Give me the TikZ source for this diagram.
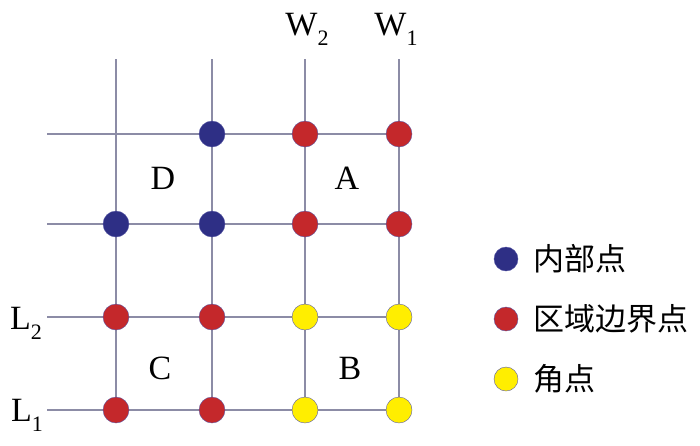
\documentclass[tikz,border=0pt]{standalone}
\usepackage{fontspec}
\setmainfont{Liberation Serif}
\newfontfamily\cjk{Noto Sans CJK SC}
\definecolor{gridc}{HTML}{8C8CA6}
\definecolor{inner}{HTML}{2E2F85}
\definecolor{edge}{HTML}{C4282B}
\definecolor{corner}{HTML}{FFEE00}
\newcommand{\mysub}[1]{\raisebox{-0.3em}{\fontsize{22}{24}\selectfont #1}}
\tikzset{
  gridline/.style={draw=gridc, line width=1.1pt},
  pt/.style={circle, minimum size=26pt, inner sep=0pt, draw=gray!70!blue, line width=0.4pt},
  lgd/.style={circle, minimum size=24pt, inner sep=0pt, draw=gray!70!blue, line width=0.4pt},
  lbl/.style={font=\fontsize{34}{38}\selectfont, inner sep=0pt},
  ctxt/.style={font=\cjk\fontsize{31}{34}\selectfont, anchor=west, inner sep=0pt}
}
\begin{document}
\begin{tikzpicture}[x=1pt,y=-1pt]
\useasboundingbox (0,0) rectangle (700,445);
% coordinates
\foreach \i/\x in {1/116,2/212,3/305,4/399}{
  \coordinate (t\i) at (\x,59);
  \coordinate (b\i) at (\x,410);
}
\foreach \j/\y in {1/134,2/224,3/317,4/410}{
  \coordinate (l\j) at (47,\y);
  \coordinate (r\j) at (399,\y);
}
\foreach \i in {1,...,4}{ \draw[gridline] (t\i) -- (b\i); }
\foreach \j in {1,...,4}{ \draw[gridline] (l\j) -- (r\j); }
% dots
\node[pt, fill=inner] (p12) at (212,134) {};
\node[pt, fill=edge] (p13) at (305,134) {};
\node[pt, fill=edge] (p14) at (399,134) {};
\node[pt, fill=inner] (p21) at (116,224) {};
\node[pt, fill=inner] (p22) at (212,224) {};
\node[pt, fill=edge] (p23) at (305,224) {};
\node[pt, fill=edge] (p24) at (399,224) {};
\node[pt, fill=edge] (p31) at (116,317) {};
\node[pt, fill=edge] (p32) at (212,317) {};
\node[pt, fill=corner] (p33) at (305,317) {};
\node[pt, fill=corner] (p34) at (399,317) {};
\node[pt, fill=edge] (p41) at (116,410) {};
\node[pt, fill=edge] (p42) at (212,410) {};
\node[pt, fill=corner] (p43) at (305,410) {};
\node[pt, fill=corner] (p44) at (399,410) {};
% labels
\node[lbl] (W2) at (307,29) {W\mysub{2}};
\node[lbl] (W1) at (396,29) {W\mysub{1}};
\node[lbl] (L2) at (26,323) {L\mysub{2}};
\node[lbl] (L1) at (27,415) {L\mysub{1}};
\node[lbl] (D) at (163,178) {D};
\node[lbl] (A) at (347,178) {A};
\node[lbl] (C) at (160,368) {C};
\node[lbl] (B) at (350,368) {B};
% legend
\node[lgd, fill=inner] (k1) at (506,259) {};
\node[lgd, fill=edge] (k2) at (506,319) {};
\node[lgd, fill=corner] (k3) at (506,379) {};
\node[ctxt] (t1) at (533,259) {内部点};
\node[ctxt] (t2) at (533,319) {区域边界点};
\node[ctxt] (t3) at (533,379) {角点};
\end{tikzpicture}
\end{document}
